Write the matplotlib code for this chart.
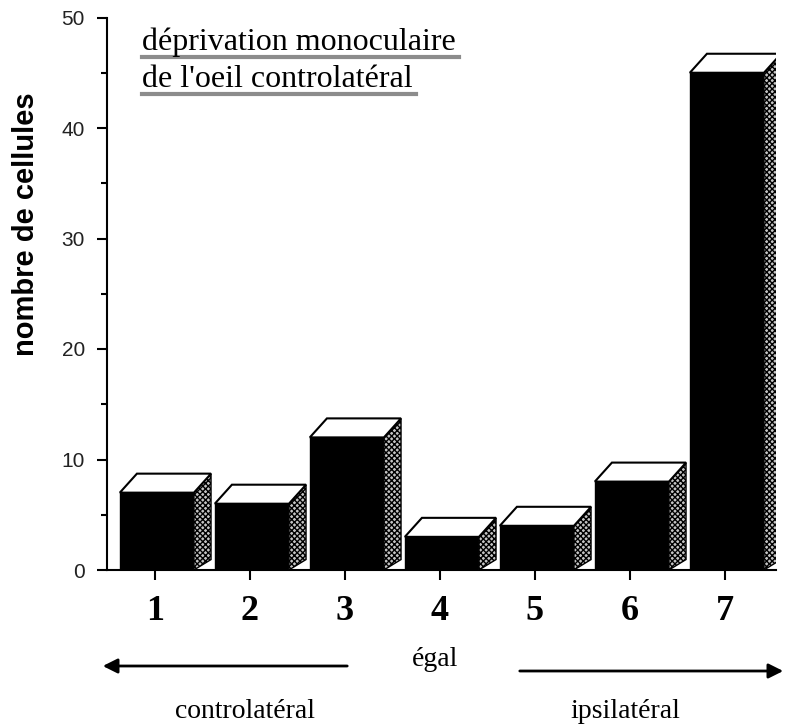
import numpy as np
import matplotlib.pyplot as plt
from matplotlib.patches import Polygon, FancyArrowPatch

# nombre de cellules par classe de dominance oculaire
classes = [1, 2, 3, 4, 5, 6, 7]
cellules = [7, 6, 12, 3, 4, 8, 45]
tick_labels = ['1', '2', '3', '4', '5', '6', '7']
titre = ["déprivation monoculaire", "de l'oeil controlatéral"]

W, H = 789, 725
fig = plt.figure(figsize=(W / 100, H / 100), dpi=100)
ax = fig.add_axes([107 / W, 1 - 570 / H, (776 - 107) / W, (570 - 17.5) / H])

largeur = 0.78
dx, dy = 0.18, 1.72   # profondeur de l'effet 3D (unités de données)

# faces avant
bars = ax.bar(np.array(classes) + 0.02, cellules, width=largeur,
              color='black', edgecolor='black', linewidth=1, zorder=2)

for b in bars:
    x0 = b.get_x()
    x1 = x0 + b.get_width()
    h = b.get_height()
    # dessus blanc
    top = Polygon([(x0, h), (x0 + dx, h + dy), (x1 + dx, h + dy), (x1, h)],
                  closed=True, facecolor='white', edgecolor='black',
                  linewidth=1.5, zorder=3)
    # côté grisé
    side = Polygon([(x1, 0), (x1 + dx, dy * 0.55), (x1 + dx, h + dy), (x1, h)],
                   closed=True, facecolor='#c4c4c4', edgecolor='black',
                   linewidth=1.0, hatch='xxxxxx', zorder=3)
    ax.add_patch(side)
    ax.add_patch(top)

ax.set_xlim(0.495, 7.537)
ax.set_ylim(0, 50)

ax.spines['top'].set_visible(False)
ax.spines['right'].set_visible(False)
ax.spines['left'].set_linewidth(1.5)
ax.spines['bottom'].set_linewidth(1.5)

ax.set_xticks(classes)
ax.set_xticklabels(tick_labels, fontfamily='Liberation Serif',
                   fontweight='bold', fontsize=26)
ax.tick_params(axis='x', direction='out', length=7, width=1.5, pad=11)

ax.set_yticks([0, 10, 20, 30, 40, 50])
ax.set_yticks([5, 15, 25, 35, 45], minor=True)
ax.set_yticklabels(['0', '10', '20', '30', '40', '50'],
                   fontfamily='Liberation Sans', fontsize=15, color='#222222')
ax.tick_params(axis='y', which='major', direction='out', length=7, width=1.5, pad=9)
ax.tick_params(axis='y', which='minor', direction='out', length=4, width=1.5)

ax.set_ylabel('nombre de cellules', fontfamily='Liberation Sans',
              fontweight='bold', fontsize=21)
ax.yaxis.set_label_coords(-0.100, 0.626)

# titre souligné en gris
t1 = fig.text(142 / W, 1 - 50 / H, titre[0], fontfamily='Liberation Serif',
              fontsize=23, ha='left', va='baseline')
t2 = fig.text(142 / W, 1 - 87 / H, titre[1], fontfamily='Liberation Serif',
              fontsize=23, ha='left', va='baseline')
fig.canvas.draw()
r = fig.canvas.get_renderer()
for t, yb in [(t1, 57), (t2, 94)]:
    bb = t.get_window_extent(r)
    fig.add_artist(plt.Line2D([bb.x0 / W, (bb.x1 + 3) / W], [1 - yb / H, 1 - yb / H],
                              color='#8c8c8c', linewidth=3, transform=fig.transFigure))

# flèches et légende de l'axe
fig.add_artist(FancyArrowPatch(
    (350 / W, 1 - 666 / H), (100 / W, 1 - 666 / H), transform=fig.transFigure,
    arrowstyle='-|>', mutation_scale=22, linewidth=2, color='black'))
fig.add_artist(FancyArrowPatch(
    (517 / W, 1 - 671 / H), (786 / W, 1 - 671 / H), transform=fig.transFigure,
    arrowstyle='-|>', mutation_scale=22, linewidth=2, color='black'))
fig.text(435 / W, 1 - 660 / H, 'égal', fontfamily='Liberation Serif',
         fontsize=20, ha='center', va='center')
fig.text(245 / W, 1 - 712 / H, 'controlatéral', fontfamily='Liberation Serif',
         fontsize=20, ha='center', va='center')
fig.text(625 / W, 1 - 712 / H, 'ipsilatéral', fontfamily='Liberation Serif',
         fontsize=20, ha='center', va='center')

fig.savefig('out.png', dpi=100)
